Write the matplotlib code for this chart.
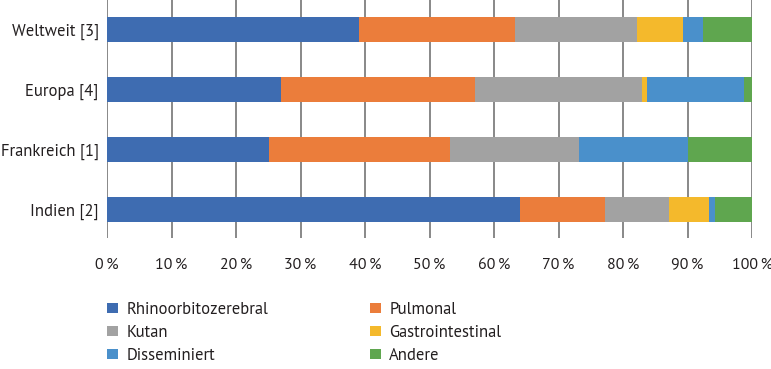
import matplotlib
matplotlib.use("Agg")
import matplotlib.pyplot as plt
from matplotlib.patches import Patch
import numpy as np

plt.rcParams['font.family'] = ['PT Sans', 'Open Sans', 'DejaVu Sans']

categories = ["Indien [2]", "Frankreich [1]", "Europa [4]", "Weltweit [3]"]
series_names = ["Rhinoorbitozerebral", "Pulmonal", "Kutan", "Gastrointestinal", "Disseminiert", "Andere"]
rhino = [64.1, 25.1, 27.0, 39.0]
pulmonal = [13.1, 28.1, 30.1, 24.2]
kutan = [10.0, 20.0, 25.9, 18.9]
gastro = [6.1, 0.0, 0.7, 7.2]
dissem = [0.9, 16.9, 15.0, 3.1]
andere = [5.8, 9.9, 1.3, 7.6]
xticklabels = ["0\u2009%", "10\u2009%", "20\u2009%", "30\u2009%", "40\u2009%", "50\u2009%",
               "60\u2009%", "70\u2009%", "80\u2009%", "90\u2009%", "100\u2009%"]

colors = ["#3E6CB1", "#EB7D3B", "#A2A2A2", "#F4B92C", "#4A90CB", "#5FA64F"]
fs = 12

fig = plt.figure(figsize=(7.71, 3.69), dpi=100)
ax = fig.add_axes([107/771, 1 - 238/369, (752-107)/771, 238/369])

data = [rhino, pulmonal, kutan, gastro, dissem, andere]
y = np.arange(len(categories))
left = np.zeros(len(categories))
for vals, c in zip(data, colors):
    vals = np.array(vals)
    ax.barh(y, vals, left=left, height=0.42, color=c, zorder=3, linewidth=0)
    left += vals

ax.set_xlim(0, 100)
ax.set_ylim(-0.47, 3.49)
ax.set_xticks(np.arange(0, 101, 10))
ax.set_xticklabels(xticklabels, fontsize=11.5, color="#231f20")
ax.set_yticks(y)
ax.set_yticklabels(categories, fontsize=fs, color="#231f20")
ax.tick_params(axis='both', length=0)
ax.tick_params(axis='x', pad=14)
ax.tick_params(axis='y', pad=6)
ax.grid(axis='x', color="#7f7f7f", linewidth=1.3, zorder=0)
ax.grid(axis='y', visible=False)
for s in ax.spines.values():
    s.set_visible(False)

# legend filled row-wise as in the reference
order = [0, 2, 4, 1, 3, 5]
handles = [Patch(facecolor=colors[i], edgecolor='none') for i in order]
labels = [series_names[i] for i in order]
fig.legend(handles, labels, loc='upper left', bbox_to_anchor=(107/771, 1 - 302/369),
           ncol=2, frameon=False, fontsize=fs, handlelength=0.66, handleheight=0.6,
           handletextpad=0.5, columnspacing=6.1, labelspacing=0.42, borderaxespad=0,
           borderpad=0, labelcolor="#231f20")

fig.savefig("out.png", dpi=100)
